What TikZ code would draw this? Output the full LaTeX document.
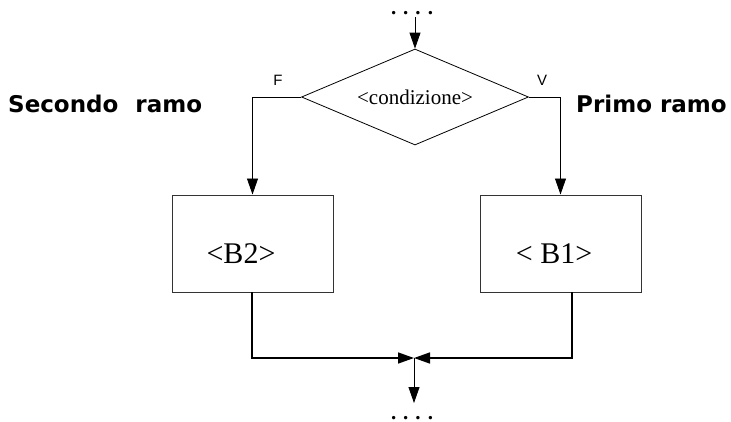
\documentclass[tikz,border=0pt]{standalone}
\usepackage{fontspec}
\setmainfont{Liberation Serif}
\newfontfamily\labsans{Liberation Sans}
\newfontfamily\headsans{DejaVu Sans}
\usetikzlibrary{shapes.geometric,arrows.meta}
\begin{document}
\begin{tikzpicture}[x=1pt,y=-1pt,
  thinline/.style={line width=0.8pt,draw=black},
  thickline/.style={line width=1.5pt,draw=black},
  arr/.style={-{Triangle[length=16pt,width=11pt]}},
  decision/.style={diamond,draw,line width=0.8pt,aspect=2.36,minimum width=227pt,minimum height=96pt,inner sep=0pt,font=\fontsize{21}{24}\selectfont},
  block/.style={rectangle,draw=black!80,line width=1pt,minimum width=161pt,minimum height=97pt,inner sep=0pt},
  blocktext/.style={font=\fontsize{30}{34}\selectfont,inner sep=0pt,anchor=base},
  tflabel/.style={font=\labsans\fontsize{15}{18}\selectfont,inner sep=0pt},
  branch/.style={font=\headsans\bfseries\fontsize{23}{27}\selectfont,inner sep=0pt,anchor=base west},
  dots/.style={font=\bfseries\fontsize{21}{24}\selectfont,inner sep=0pt,anchor=base}]
\useasboundingbox (0,0) rectangle (731,421);
\node[dots] (dtop) at (412,14) {. . . .};
\coordinate (topin) at (415,17);
\node[decision] (cond) at (415,97) {<condizione>};
\node[tflabel] (F) at (278,80) {F};
\node[tflabel] (V) at (542,80) {V};
\node[branch] (sec) at (8,112) {Secondo\hspace{17pt}ramo};
\node[branch] (pri) at (576,112) {Primo ramo};
\node[block] (b2) at (252.5,243.5) {};
\node[block] (b1) at (560.5,243.5) {};
\node[blocktext] (t2) at (241,263) {<B2>};
\node[blocktext] (t1) at (554,263) {< B1>};
\coordinate (b2out) at (252,292);
\coordinate (b1out) at (572,292);
\coordinate (join) at (414,358);
\coordinate (outend) at (414,403);
\node[dots] (dbot) at (412,419) {. . . .};
\draw[thinline,arr] (topin) -- (cond.north);
\draw[thinline,arr] (cond.west) -| (b2.north);
\draw[thinline,arr] (cond.east) -| (b1.north);
\draw[thickline,arr] (b2out) |- (join);
\draw[thickline,arr] (b1out) |- (join);
\draw[thinline,arr] (join) -- (outend);
\end{tikzpicture}
\end{document}
